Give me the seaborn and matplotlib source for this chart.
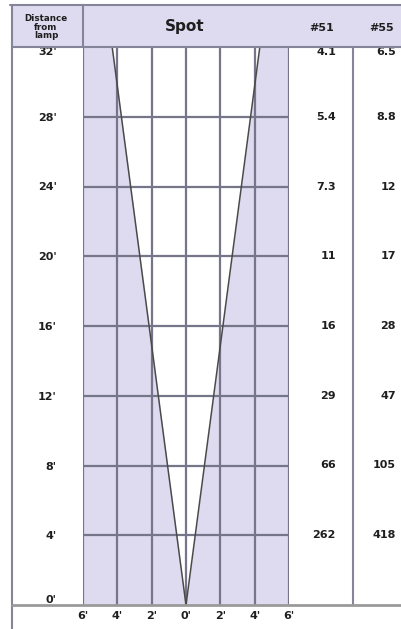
import matplotlib
matplotlib.use("Agg")
import matplotlib.pyplot as plt
import seaborn as sns
import pandas as pd
from matplotlib.lines import Line2D
from matplotlib.patches import Rectangle
from matplotlib.transforms import blended_transform_factory

# ---------------- data ----------------
distances = [0, 4, 8, 12, 16, 20, 24, 28, 32]
distance_labels = ["0'", "4'", "8'", "12'", "16'", "20'", "24'", "28'", "32'"]
spread_positions = [-6, -4, -2, 0, 2, 4, 6]
spread_labels = ["6'", "4'", "2'", "0'", "2'", "4'", "6'"]
beam_distance = [0, 32]
beam_half_width = [0, 4.3]
row_distances = [32, 28, 24, 20, 16, 12, 8, 4]
lamp51 = [4.1, 5.4, 7.3, 11, 16, 29, 66, 262]
lamp55 = [6.5, 8.8, 12, 17, 28, 47, 105, 418]
headers = ["Distance\nfrom\nlamp", "Spot", "#51", "#55"]

# ---------------- style ----------------
sns.set_theme(style="white")
plt.rcParams["font.family"] = ["DejaVu Sans"]
LAV = "#dedaef"
GRID = "#76768a"
BORDER = "#84849a"
TXT = "#1e1e1e"

W, H = 402, 629
fig = plt.figure(figsize=(W / 100, H / 100), dpi=100)
fig.patch.set_facecolor("white")


def fx(x):
    return x / W


def fy(y):
    return 1 - y / H


left, right, top, bottom = 83, 289, 47, 605
ax = fig.add_axes([fx(left), fy(bottom), fx(right - left), (bottom - top) / H])
ax.set_xlim(-6, 6)
ax.set_ylim(0, 32)
ax.set_facecolor(LAV)
for s in ax.spines.values():
    s.set_visible(False)

# beam (white inside the spot)
neg = [-h for h in beam_half_width]
ax.fill_betweenx(beam_distance, neg, beam_half_width, color="white", zorder=1, lw=0)
beam_df = pd.DataFrame({
    "offset": neg + beam_half_width,
    "distance": beam_distance + beam_distance,
    "edge": ["left"] * len(beam_distance) + ["right"] * len(beam_distance),
})
sns.lineplot(data=beam_df, x="offset", y="distance", units="edge", estimator=None,
             sort=False, color="#4a4a4a", lw=1.1, ax=ax, zorder=4, legend=False)

# grid
for x in spread_positions:
    ax.axvline(x, color=GRID, lw=1.6, zorder=3)
for y in distances[1:-1]:
    ax.axhline(y, color=GRID, lw=1.6, zorder=3)

ax.set_xlabel("")
ax.set_ylabel("")
ax.set_xticks(spread_positions, spread_labels)
ax.set_yticks(distances, distance_labels)
ax.tick_params(axis="y", length=0, pad=19, labelsize=8)
ax.tick_params(axis="x", length=0, pad=4, labelsize=8)
for lab in ax.get_yticklabels() + ax.get_xticklabels():
    lab.set_fontweight("bold")
    lab.set_color(TXT)
ylabs = ax.get_yticklabels()
ylabs[0].set_va("bottom")
ylabs[-1].set_va("top")

# value columns
tr = blended_transform_factory(fig.transFigure, ax.transData)
for d, v1, v2 in zip(row_distances, lamp51, lamp55):
    va = "top" if d == max(row_distances) else "center"
    ax.text(fx(336), d, f"{v1:g}", transform=tr, ha="right", va=va, fontsize=8,
            fontweight="bold", color=TXT, clip_on=False)
    ax.text(fx(396), d, f"{v2:g}", transform=tr, ha="right", va=va, fontsize=8,
            fontweight="bold", color=TXT, clip_on=False)

# header band
fig.add_artist(Rectangle((fx(12), fy(47)), fx(402 - 12), (47 - 5) / H,
                         transform=fig.transFigure, facecolor=LAV, edgecolor="none", zorder=0))
fig.text(fx(46), fy(27), headers[0], ha="center", va="center", fontsize=6.3,
         fontweight="bold", linespacing=0.9, color=TXT)
fig.text(fx(185), fy(26), headers[1], ha="center", va="center", fontsize=11,
         fontweight="bold", color=TXT)
fig.text(fx(322), fy(28), headers[2], ha="center", va="center", fontsize=8,
         fontweight="bold", color=TXT)
fig.text(fx(382), fy(28), headers[3], ha="center", va="center", fontsize=8,
         fontweight="bold", color=TXT)


def fline(x0, y0, x1, y1, color=BORDER, lw=1.5):
    fig.add_artist(Line2D([fx(x0), fx(x1)], [fy(y0), fy(y1)], transform=fig.transFigure,
                          color=color, lw=lw, zorder=5))


fline(10, 5, 402, 5)
fline(12, 47, 402, 47)
fline(12, 5, 12, 629)
fline(83, 5, 83, 47)
fline(353, 47, 353, 605)
fline(12, 605, 402, 605, color="#9a9a9a", lw=2)

fig.savefig("out.png", dpi=100)
